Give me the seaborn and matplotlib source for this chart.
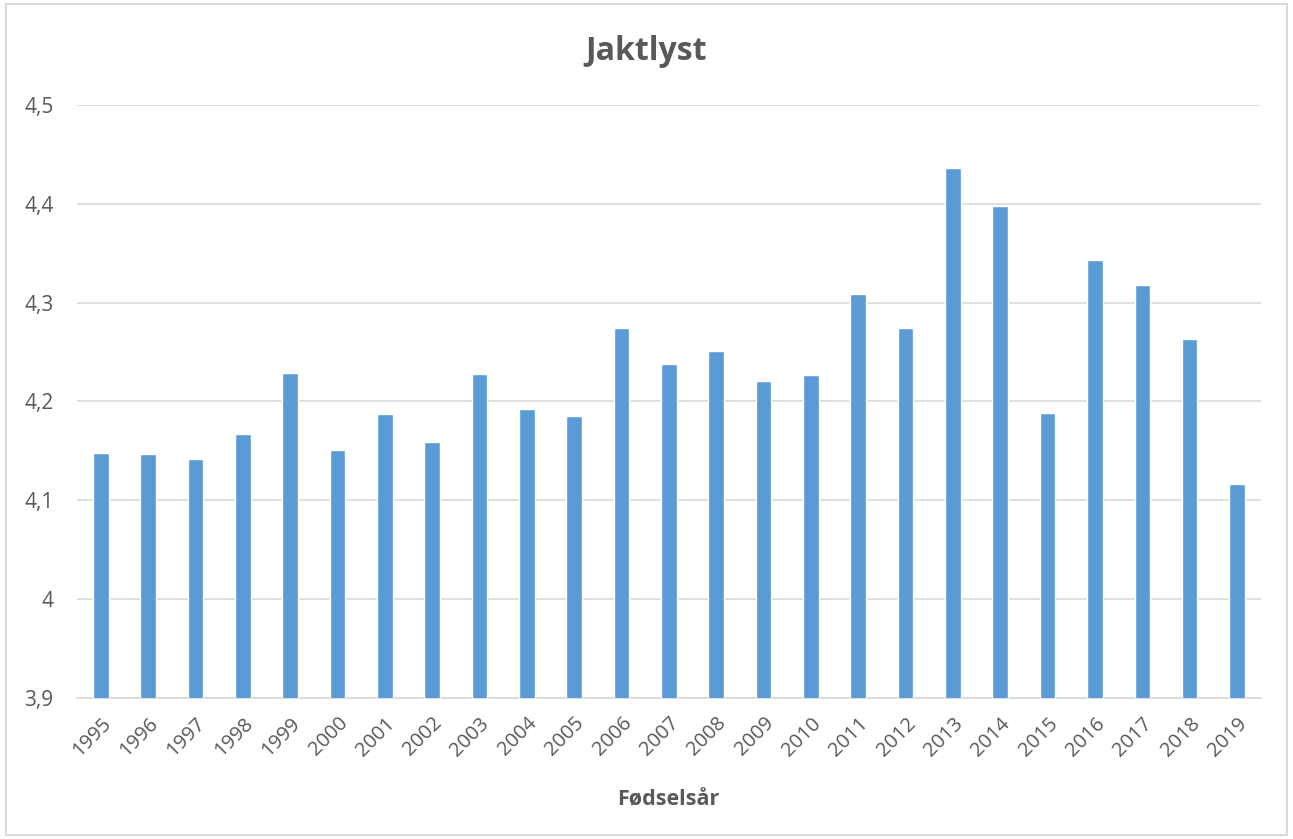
import numpy as np
import pandas as pd
import matplotlib
matplotlib.use('Agg')
import matplotlib.pyplot as plt
import seaborn as sns
from matplotlib.patches import Rectangle

years = [str(y) for y in range(1995, 2020)]
jaktlyst = [4.148, 4.147, 4.142, 4.167, 4.229, 4.151, 4.187, 4.159, 4.228, 4.192,
            4.185, 4.274, 4.238, 4.251, 4.221, 4.227, 4.309, 4.274, 4.436, 4.398,
            4.188, 4.343, 4.318, 4.263, 4.117]
yticks = [3.9, 4.0, 4.1, 4.2, 4.3, 4.4, 4.5]
ytick_labels = ['3,9', '4', '4,1', '4,2', '4,3', '4,4', '4,5']

df = pd.DataFrame({'year': years, 'value': jaktlyst})

sns.set_style('white')
plt.rcParams['font.family'] = ['Open Sans', 'DejaVu Sans']
txt = '#595959'

fig = plt.figure(figsize=(12.93, 8.39), dpi=100)
ax = fig.add_axes([0.0596, 0.168, 0.9154, 0.707])

sns.barplot(data=df, x='year', y='value', color='#5B9BD5', width=0.33,
            saturation=1, ax=ax, zorder=3)

ax.set_ylim(3.9, 4.5)
ax.set_yticks(yticks)
ax.set_yticklabels(ytick_labels, color=txt, fontsize=15)
ax.yaxis.grid(True, color='#D9D9D9', linewidth=1.2, zorder=0)
ax.set_xlim(-0.5, len(years) - 0.5)
ax.tick_params(axis='x', length=0, pad=11, labelcolor=txt, labelsize=14.5)
ax.tick_params(axis='y', length=0, pad=17)
plt.setp(ax.get_xticklabels(), rotation=45, ha='right', rotation_mode='anchor')
for sp in ['top', 'right', 'left']:
    ax.spines[sp].set_visible(False)
ax.spines['bottom'].set_color('#D9D9D9')
ax.spines['bottom'].set_linewidth(1.2)

ax.set_xlabel('')
ax.set_ylabel('')
fig.text(0.517, 0.0465, 'Fødselsår', ha='center', va='center', color=txt,
         fontsize=15.5, fontweight='bold')
fig.text(0.5, 0.939, 'Jaktlyst', ha='center', va='center', color=txt,
         fontsize=23, fontweight='bold')

fig.patches.append(Rectangle((0.005, 0.005), 0.99, 0.99, transform=fig.transFigure,
                             fill=False, edgecolor='#D9D9D9', linewidth=1.5))

fig.savefig('out.png', dpi=100)
